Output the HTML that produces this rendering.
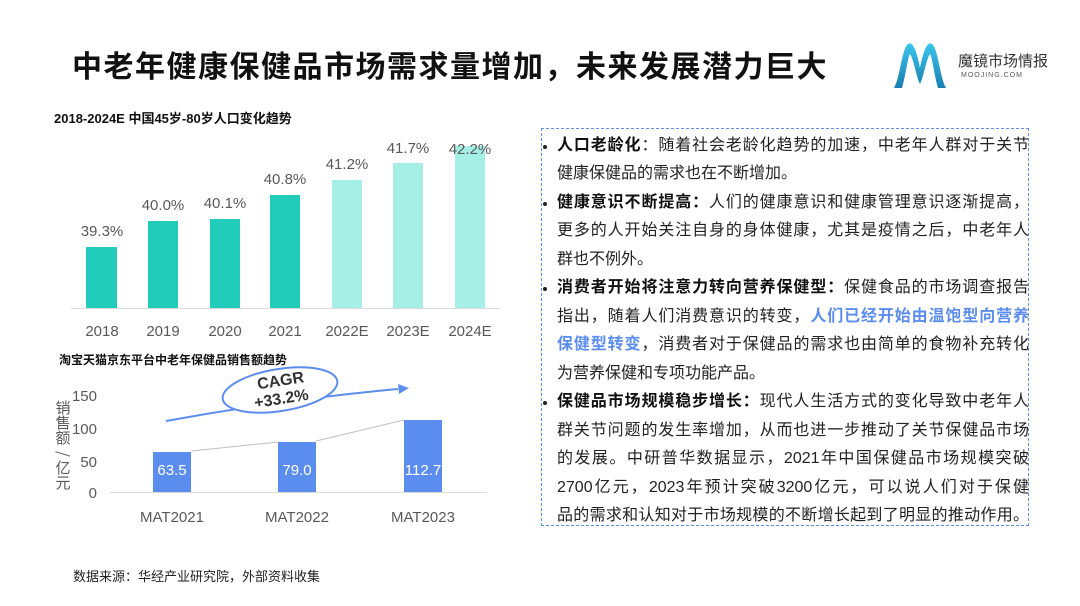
<!DOCTYPE html>
<html><head><meta charset="utf-8"><style>
body{margin:0;width:1080px;height:606px;background:#fff;position:relative;overflow:hidden;font-family:"Liberation Sans","Noto Sans CJK SC",sans-serif;}
.a{position:absolute;white-space:nowrap;}
.ln{position:absolute;left:557px;width:472px;font-size:16px;color:#222;text-align:justify;text-align-last:justify;line-height:20px;white-space:nowrap;}
.ln.l{text-align-last:left;}
b{font-weight:bold;color:#111}
.bl{color:#5b8def;font-weight:bold}
.dot{position:absolute;left:543px;width:4px;height:4px;background:#222;border-radius:50%}
</style></head><body>
<div class="a" style="left:72px;top:42px;font-size:30px;font-weight:bold;color:#111;letter-spacing:1.5px">中老年健康保健品市场需求量增加，未来发展潜力巨大</div>
<svg class="a" style="left:890px;top:38px" width="60" height="54" viewBox="0 0 60 54">
<defs><linearGradient id="g" x1="0" y1="0" x2="0" y2="1"><stop offset="0" stop-color="#3cc6ee"/><stop offset="1" stop-color="#1a7fb0"/></linearGradient></defs>
<path d="M4 50 C10 40 12 10 18 6 C24 2 28 20 30 30 C32 20 36 2 42 6 C48 10 50 40 56 50 L48 50 C44 36 42 18 40 16 C36 22 34 38 30 46 C26 38 24 22 20 16 C18 18 16 36 12 50Z" fill="url(#g)"/>
</svg>
<div class="a" style="left:958px;top:50px;font-size:15px;color:#333">魔镜市场情报</div>
<div class="a" style="left:961px;top:72px;font-size:7px;color:#555;letter-spacing:1px">MOOJING.COM</div>

<div class="a" style="left:54px;top:108px;font-size:13px;font-weight:bold;color:#111">2018-2024E 中国45岁-80岁人口变化趋势</div>
<svg class="a" style="left:0;top:0" width="540" height="606">
<g font-family="Liberation Sans, sans-serif" font-size="15" fill="#595959" text-anchor="middle">
<line x1="71" y1="308.5" x2="500" y2="308.5" stroke="#d9d9d9" stroke-width="1"/>
<rect x="86" y="247" width="31" height="61" fill="#22ccbb"/>
<rect x="148" y="221" width="30" height="87" fill="#22ccbb"/>
<rect x="210" y="219" width="30" height="89" fill="#22ccbb"/>
<rect x="270" y="195" width="30" height="113" fill="#22ccbb"/>
<rect x="332" y="180" width="30" height="128" fill="#a6efe6"/>
<rect x="393" y="163" width="30" height="145" fill="#a6efe6"/>
<rect x="455" y="146" width="30" height="162" fill="#a6efe6"/>
<text x="102" y="236">39.3%</text><text x="163" y="210">40.0%</text><text x="225" y="208">40.1%</text>
<text x="285" y="184">40.8%</text><text x="347" y="169">41.2%</text><text x="408" y="153">41.7%</text><text x="470" y="154">42.2%</text>
<text x="102" y="336">2018</text><text x="163" y="336">2019</text><text x="225" y="336">2020</text><text x="285" y="336">2021</text>
<text x="347" y="336">2022E</text><text x="408" y="336">2023E</text><text x="470" y="336">2024E</text>
</g>
<text x="59" y="364" font-size="12" font-weight="bold" fill="#111" font-family="Liberation Sans, Noto Sans CJK SC, sans-serif">淘宝天猫京东平台中老年保健品销售额趋势</text>
<g font-family="Liberation Sans, sans-serif" font-size="15" fill="#595959">
<line x1="110" y1="492.5" x2="487" y2="492.5" stroke="#d9d9d9"/>
<polyline points="192,451 278,442" stroke="#bfbfbf" fill="none"/>
<polyline points="316,441 404,420" stroke="#bfbfbf" fill="none"/>
<rect x="153" y="452" width="38" height="40" fill="#5b8def"/>
<rect x="278" y="442" width="38" height="50" fill="#5b8def"/>
<rect x="404" y="420" width="38" height="72" fill="#5b8def"/>
<g text-anchor="end"><text x="97" y="401">150</text><text x="97" y="434">100</text><text x="97" y="467">50</text><text x="97" y="498">0</text></g>
<g text-anchor="middle" fill="#fff"><text x="172" y="475">63.5</text><text x="297" y="475">79.0</text><text x="423" y="475">112.7</text></g>
<g text-anchor="middle"><text x="172" y="522">MAT2021</text><text x="297" y="522">MAT2022</text><text x="423" y="522">MAT2023</text></g>
<g font-family="Noto Sans CJK SC, sans-serif" font-size="15" text-anchor="middle"><text x="63" y="413">销</text><text x="63" y="428">售</text><text x="63" y="443">额</text><text x="63" y="459" transform="rotate(90 63 454)">/</text><text x="63" y="473">亿</text><text x="63" y="488">元</text></g>
</g>
<path d="M166 421 Q280 400 398 389" stroke="#5b8def" stroke-width="2" fill="none"/>
<path d="M398 384 L409 388 L399 394Z" fill="#5b8def"/>
<ellipse cx="280" cy="390" rx="58" ry="21" transform="rotate(-9 280 390)" fill="#fff" stroke="#5b8def" stroke-width="2"/>
<g transform="rotate(-9 280 390)" font-family="Liberation Sans, sans-serif" font-weight="bold" font-size="16" fill="#333" text-anchor="middle"><text x="282" y="386">CAGR</text><text x="280" y="404">+33.2%</text></g>
</svg>
<div class="a" style="left:73px;top:566px;font-size:13px;color:#222">数据来源：华经产业研究院，外部资料收集</div>

<div class="a" style="left:541px;top:128px;width:486px;height:396px;border:1px dashed #5b8def"></div>
<div class="dot" style="top:145px"></div><div class="dot" style="top:202px"></div><div class="dot" style="top:287px"></div><div class="dot" style="top:401px"></div>
<div class="ln" style="top:136px"><b>人口老龄化</b>：随着社会老龄化趋势的加速，中老年人群对于关节</div>
<div class="ln l" style="top:164px">健康保健品的需求也在不断增加。</div>
<div class="ln" style="top:193px"><b>健康意识不断提高：</b>人们的健康意识和健康管理意识逐渐提高，</div>
<div class="ln" style="top:221px">更多的人开始关注自身的身体健康，尤其是疫情之后，中老年人</div>
<div class="ln l" style="top:250px">群也不例外。</div>
<div class="ln" style="top:278px"><b>消费者开始将注意力转向营养保健型：</b>保健食品的市场调查报告</div>
<div class="ln" style="top:307px">指出，随着人们消费意识的转变，<span class="bl">人们已经开始由温饱型向营养</span></div>
<div class="ln" style="top:335px"><span class="bl">保健型转变</span>，消费者对于保健品的需求也由简单的食物补充转化</div>
<div class="ln l" style="top:364px">为营养保健和专项功能产品。</div>
<div class="ln" style="top:392px"><b>保健品市场规模稳步增长：</b>现代人生活方式的变化导致中老年人</div>
<div class="ln" style="top:421px">群关节问题的发生率增加，从而也进一步推动了关节保健品市场</div>
<div class="ln" style="top:449px">的发展。中研普华数据显示，2021年中国保健品市场规模突破</div>
<div class="ln" style="top:478px">2700亿元，2023年预计突破3200亿元，可以说人们对于保健</div>
<div class="ln" style="top:506px">品的需求和认知对于市场规模的不断增长起到了明显的推动作用。</div>
</body></html>
